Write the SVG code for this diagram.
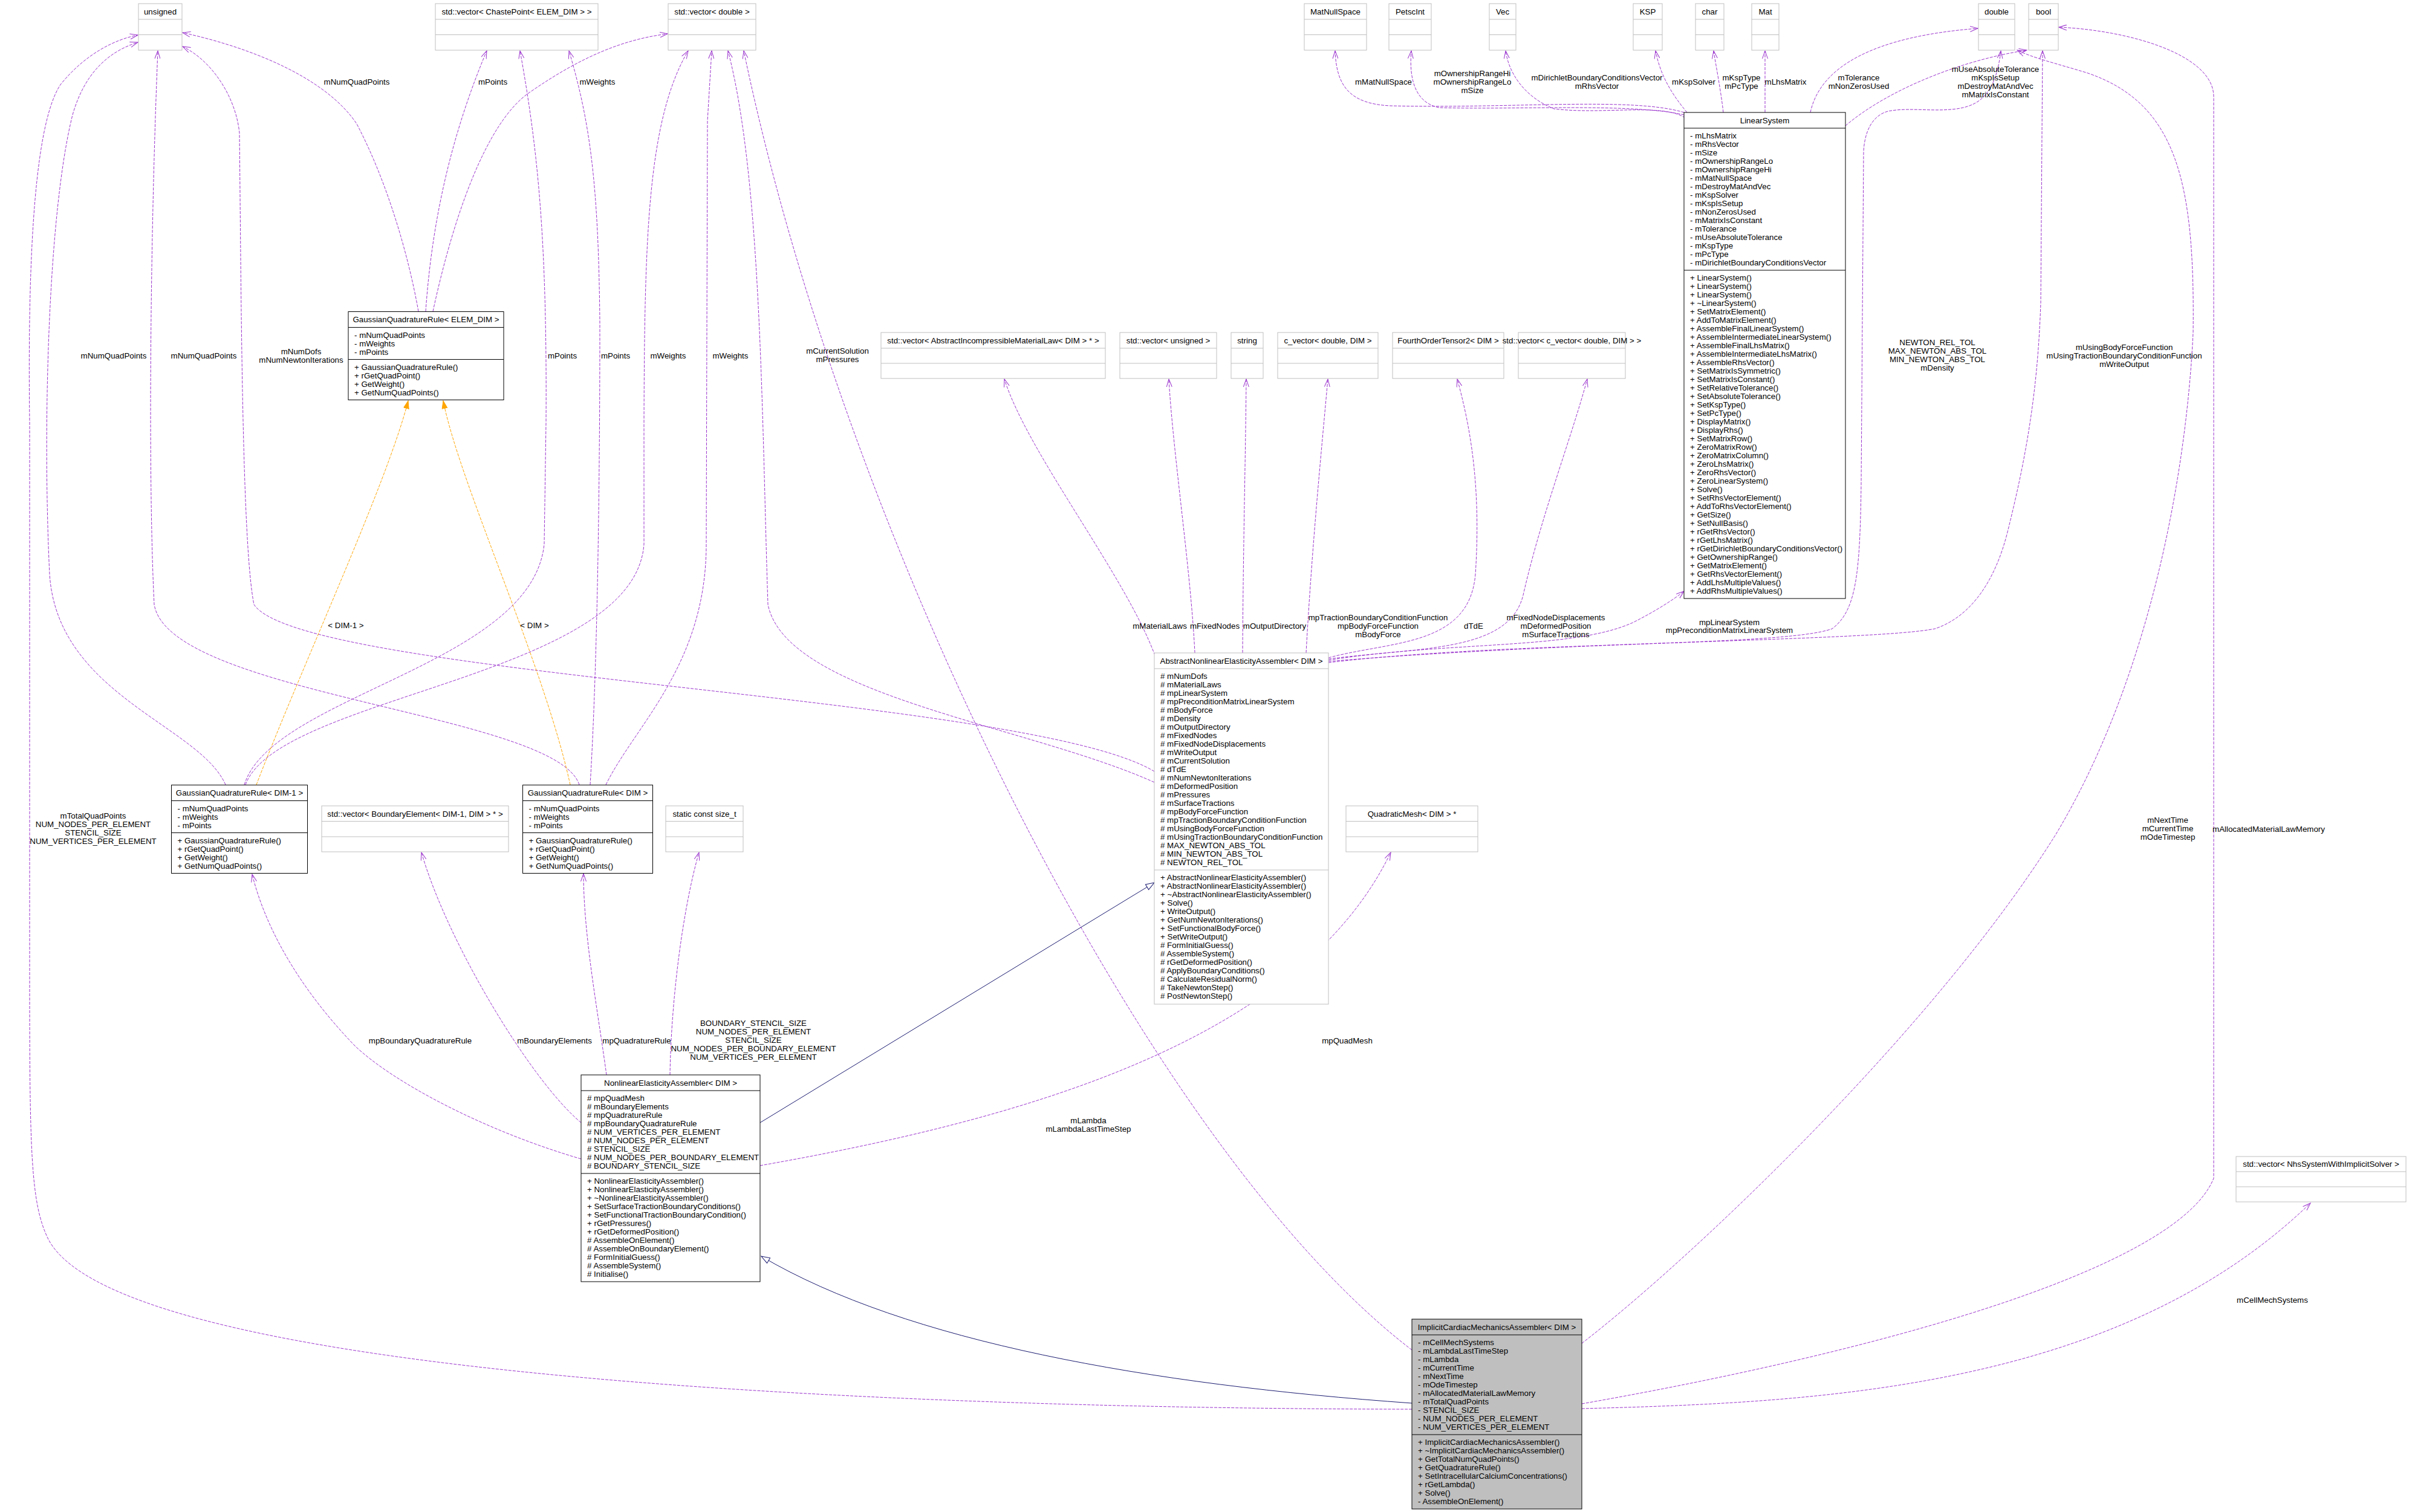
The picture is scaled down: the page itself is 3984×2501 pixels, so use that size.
<svg xmlns="http://www.w3.org/2000/svg" width="3984" height="2501" viewBox="0 0 3984 2501">
<style>
text{font-family:"Liberation Sans",Arial,sans-serif;font-size:13.33px;fill:#000}
.c{text-anchor:middle}
.bx{fill:#fff;stroke:#000;stroke-width:1}
.gx{fill:#fff;stroke:#bfbfbf;stroke-width:1}
.sx{fill:#bfbfbf;stroke:#000;stroke-width:1}
.lb{stroke:#000;stroke-width:1}
.lg{stroke:#bfbfbf;stroke-width:1}
.e{fill:none;stroke:#9a32cd;stroke-width:1;stroke-dasharray:5,2;marker-end:url(#ao)}
.o{fill:none;stroke:#ffa500;stroke-width:1;stroke-dasharray:5,2;marker-end:url(#af)}
.i{fill:none;stroke:#191970;stroke-width:1;marker-end:url(#ai)}
</style>
<defs>
<marker id="ao" markerUnits="userSpaceOnUse" markerWidth="14" markerHeight="10" viewBox="0 0 14 10" refX="13" refY="5" orient="auto"><path d="M0,0.5 L13,5 L0,9.5" fill="none" stroke="#9a32cd"/></marker>
<marker id="af" markerUnits="userSpaceOnUse" markerWidth="14" markerHeight="10" viewBox="0 0 14 10" refX="13" refY="5" orient="auto"><path d="M0,0.5 L13,5 L0,9.5 z" fill="#ffa500" stroke="#ffa500"/></marker>
<marker id="ai" markerUnits="userSpaceOnUse" markerWidth="16" markerHeight="12" viewBox="0 0 16 12" refX="15" refY="6" orient="auto"><path d="M1,1 L15,6 L1,11 z" fill="#fff" stroke="#191970"/></marker>
</defs>
<rect x="0" y="0" width="3984" height="2501" fill="#fff"/>

<g id="connectors">
<path class="e" d="M692,515 C675,420 640,300 590,205 C540,130 420,80 302,54"/>
<path class="e" d="M704,515 C712,400 735,250 805,84"/>
<path class="e" d="M716,515 C745,380 800,200 880,150 C960,95 1030,65 1104,56"/>
<path class="e" d="M373,1298 C330,1200 95,1150 82,950 C70,700 80,350 120,190 C140,120 180,85 228,70"/>
<path class="e" d="M958,1298 C920,1180 280,1150 255,1000 C245,800 248,400 261,84"/>
<path class="e" d="M1909,1276 C1700,1150 500,1120 420,1000 C400,900 399,500 396,220 C390,160 350,100 302,77"/>
<path class="e" d="M2335,2331 C1500,2330 200,2280 80,2050 C50,1990 49,1900 49,1600 L49,700 C45,400 60,200 100,140 C140,90 190,65 228,58"/>
<path class="e" d="M404,1298 C450,1150 880,1100 900,900 L903,700 C905,400 890,250 860,84"/>
<path class="e" d="M976,1298 C985,1150 992,900 992,536 C990,300 975,200 941,84"/>
<path class="e" d="M406,1298 C460,1150 1050,1120 1065,900 L1065,700 C1066,400 1070,200 1138,84"/>
<path class="e" d="M1002,1298 C1050,1200 1168,1100 1168,900 L1170,200 L1177,84"/>
<path class="e" d="M1909,1294 C1700,1200 1300,1150 1270,1000 C1260,700 1260,300 1204,84"/>
<path class="e" d="M2335,2233 C1900,1900 1400,900 1230,84"/>
<path class="o" d="M424,1298 C500,1100 640,800 675,663"/>
<path class="o" d="M943,1298 C900,1100 760,800 733,663"/>
<path class="e" d="M1910,1084 C1860,950 1700,750 1661,627"/>
<path class="e" d="M1976,1080 C1970,950 1940,750 1933,627"/>
<path class="e" d="M2055,1080 C2056,900 2060,750 2061,627"/>
<path class="e" d="M2160,1080 C2170,900 2185,750 2196,627"/>
<path class="e" d="M2197,1088 C2300,1060 2430,1070 2440,950 C2450,800 2430,700 2410,627"/>
<path class="e" d="M2197,1090 C2350,1070 2500,1080 2520,980 C2550,850 2600,720 2625,627"/>
<path class="e" d="M2197,1092 C2400,1060 2600,1075 2700,1030 C2740,1010 2770,990 2785,978"/>
<path class="e" d="M2197,1096 C2500,1060 2950,1070 3030,1040 C3070,1010 3076,950 3078,800 L3082,250 C3085,200 3110,185 3128,183 C3160,178 3200,185 3236,180 C3270,175 3300,160 3309,84"/>
<path class="e" d="M2197,1094 C2600,1060 3100,1060 3200,1040 C3260,1020 3300,960 3320,880 C3350,760 3370,650 3375,500 L3378,84"/>
<path class="e" d="M2785,186 C2700,160 2500,180 2300,175 C2230,172 2210,140 2208,84"/>
<path class="e" d="M2785,190 C2700,170 2500,182 2380,178 C2340,170 2330,130 2334,84"/>
<path class="e" d="M2787,195 C2750,170 2650,190 2570,180 C2520,160 2495,120 2490,84"/>
<path class="e" d="M2790,186 C2760,150 2745,120 2738,84"/>
<path class="e" d="M2850,186 C2846,150 2838,110 2834,84"/>
<path class="e" d="M2919,186 L2919,84"/>
<path class="e" d="M2994,186 C3010,110 3100,60 3271,47"/>
<path class="e" d="M3052,208 C3120,150 3240,100 3352,83"/>
<path class="e" d="M2616,2222 C2800,2080 3200,1700 3400,1380 C3550,1130 3615,800 3627,550 C3630,300 3600,170 3450,120 C3400,105 3360,95 3336,83"/>
<path class="e" d="M2616,2322 C3100,2237 3600,2100 3661,1949 L3661,160 C3661,90 3520,50 3405,45"/>
<path class="e" d="M2616,2330 C3000,2320 3500,2300 3821,1990"/>
<path class="e" d="M961,1917 C800,1870 650,1790 587,1730 C500,1640 440,1540 417,1446"/>
<path class="e" d="M961,1857 C880,1790 740,1560 697,1410"/>
<path class="e" d="M1003,1778 C990,1680 965,1550 965,1445"/>
<path class="e" d="M1108,1778 C1110,1650 1130,1500 1156,1410"/>
<path class="e" d="M1257,1928 C1700,1850 2150,1720 2300,1410"/>
<path class="i" d="M1257,1857 L1909,1460"/>
<path class="i" d="M2335,2321 C1900,2290 1500,2220 1259,2078"/>

<g class="c">
<text x="590" y="140">mNumQuadPoints</text>
<text x="815" y="140">mPoints</text>
<text x="988" y="140">mWeights</text>
<text x="188" y="593">mNumQuadPoints</text>
<text x="337" y="593">mNumQuadPoints</text>
<text x="498" y="586">mNumDofs</text><text x="498" y="600">mNumNewtonIterations</text>
<text x="930" y="593">mPoints</text>
<text x="1018" y="593">mPoints</text>
<text x="1105" y="593">mWeights</text>
<text x="1208" y="593">mWeights</text>
<text x="1385" y="585">mCurrentSolution</text><text x="1385" y="599">mPressures</text>
<text x="572" y="1039">&lt; DIM-1 &gt;</text>
<text x="884" y="1039">&lt; DIM &gt;</text>
<text x="1800" y="1858">mLambda</text><text x="1800" y="1872">mLambdaLastTimeStep</text>
<text x="154" y="1354">mTotalQuadPoints</text><text x="154" y="1368">NUM_NODES_PER_ELEMENT</text><text x="154" y="1382">STENCIL_SIZE</text><text x="154" y="1396">NUM_VERTICES_PER_ELEMENT</text>
<text x="1918" y="1040">mMaterialLaws</text>
<text x="2009" y="1040">mFixedNodes</text>
<text x="2108" y="1040">mOutputDirectory</text>
<text x="2279" y="1026">mpTractionBoundaryConditionFunction</text><text x="2279" y="1040">mpBodyForceFunction</text><text x="2279" y="1054">mBodyForce</text>
<text x="2437" y="1040">dTdE</text>
<text x="2573" y="1026">mFixedNodeDisplacements</text><text x="2573" y="1040">mDeformedPosition</text><text x="2573" y="1054">mSurfaceTractions</text>
<text x="2860" y="1034">mpLinearSystem</text><text x="2860" y="1047">mpPreconditionMatrixLinearSystem</text>
<text x="3204" y="571">NEWTON_REL_TOL</text><text x="3204" y="585">MAX_NEWTON_ABS_TOL</text><text x="3204" y="599">MIN_NEWTON_ABS_TOL</text><text x="3204" y="613">mDensity</text>
<text x="3513" y="579">mUsingBodyForceFunction</text><text x="3513" y="593">mUsingTractionBoundaryConditionFunction</text><text x="3513" y="607">mWriteOutput</text>
<text x="3585" y="1361">mNextTime</text><text x="3585" y="1375">mCurrentTime</text><text x="3585" y="1389">mOdeTimestep</text>
<text x="3752" y="1376">mAllocatedMaterialLawMemory</text>
<text x="3758" y="2155">mCellMechSystems</text>
<text x="2288" y="140">mMatNullSpace</text>
<text x="2435" y="126">mOwnershipRangeHi</text><text x="2435" y="140">mOwnershipRangeLo</text><text x="2435" y="154">mSize</text>
<text x="2641" y="133">mDirichletBoundaryConditionsVector</text><text x="2641" y="147">mRhsVector</text>
<text x="2801" y="140">mKspSolver</text>
<text x="2880" y="133">mKspType</text><text x="2880" y="147">mPcType</text>
<text x="2953" y="140">mLhsMatrix</text>
<text x="3074" y="133">mTolerance</text><text x="3074" y="147">mNonZerosUsed</text>
<text x="3300" y="119">mUseAbsoluteTolerance</text><text x="3300" y="133">mKspIsSetup</text><text x="3300" y="147">mDestroyMatAndVec</text><text x="3300" y="161">mMatrixIsConstant</text>
<text x="695" y="1726">mpBoundaryQuadratureRule</text>
<text x="917" y="1726">mBoundaryElements</text>
<text x="1053" y="1726">mpQuadratureRule</text>
<text x="1246" y="1697">BOUNDARY_STENCIL_SIZE</text><text x="1246" y="1711">NUM_NODES_PER_ELEMENT</text><text x="1246" y="1725">STENCIL_SIZE</text><text x="1246" y="1739">NUM_NODES_PER_BOUNDARY_ELEMENT</text><text x="1246" y="1753">NUM_VERTICES_PER_ELEMENT</text>
<text x="2228" y="1726">mpQuadMesh</text>
</g>
</g>

<g id="unsigned"><rect class="gx" x="229" y="6" width="72" height="77"/><line class="lg" x1="229" y1="32" x2="301" y2="32"/><line class="lg" x1="229" y1="57.5" x2="301" y2="57.5"/><text class="c" x="265" y="23.5">unsigned</text></g>
<g id="vecChastePoint"><rect class="gx" x="720" y="6" width="269" height="77"/><line class="lg" x1="720" y1="32" x2="989" y2="32"/><line class="lg" x1="720" y1="57.5" x2="989" y2="57.5"/><text class="c" x="854.5" y="23.5">std::vector&lt; ChastePoint&lt; ELEM_DIM &gt; &gt;</text></g>
<g id="vecDouble"><rect class="gx" x="1105" y="6" width="145" height="77"/><line class="lg" x1="1105" y1="32" x2="1250" y2="32"/><line class="lg" x1="1105" y1="57.5" x2="1250" y2="57.5"/><text class="c" x="1177.5" y="23.5">std::vector&lt; double &gt;</text></g>
<g id="MatNullSpace"><rect class="gx" x="2157" y="6" width="103" height="77"/><line class="lg" x1="2157" y1="32" x2="2260" y2="32"/><line class="lg" x1="2157" y1="57.5" x2="2260" y2="57.5"/><text class="c" x="2208.5" y="23.5">MatNullSpace</text></g>
<g id="PetscInt"><rect class="gx" x="2297" y="6" width="70" height="77"/><line class="lg" x1="2297" y1="32" x2="2367" y2="32"/><line class="lg" x1="2297" y1="57.5" x2="2367" y2="57.5"/><text class="c" x="2332" y="23.5">PetscInt</text></g>
<g id="Vec"><rect class="gx" x="2463" y="6" width="44" height="77"/><line class="lg" x1="2463" y1="32" x2="2507" y2="32"/><line class="lg" x1="2463" y1="57.5" x2="2507" y2="57.5"/><text class="c" x="2485" y="23.5">Vec</text></g>
<g id="KSP"><rect class="gx" x="2701" y="6" width="48" height="77"/><line class="lg" x1="2701" y1="32" x2="2749" y2="32"/><line class="lg" x1="2701" y1="57.5" x2="2749" y2="57.5"/><text class="c" x="2725" y="23.5">KSP</text></g>
<g id="char"><rect class="gx" x="2804" y="6" width="47" height="77"/><line class="lg" x1="2804" y1="32" x2="2851" y2="32"/><line class="lg" x1="2804" y1="57.5" x2="2851" y2="57.5"/><text class="c" x="2827.5" y="23.5">char</text></g>
<g id="Mat"><rect class="gx" x="2897" y="6" width="45" height="77"/><line class="lg" x1="2897" y1="32" x2="2942" y2="32"/><line class="lg" x1="2897" y1="57.5" x2="2942" y2="57.5"/><text class="c" x="2919.5" y="23.5">Mat</text></g>
<g id="double"><rect class="gx" x="3272" y="6" width="60" height="77"/><line class="lg" x1="3272" y1="32" x2="3332" y2="32"/><line class="lg" x1="3272" y1="57.5" x2="3332" y2="57.5"/><text class="c" x="3302" y="23.5">double</text></g>
<g id="bool"><rect class="gx" x="3355" y="6" width="49" height="77"/><line class="lg" x1="3355" y1="32" x2="3404" y2="32"/><line class="lg" x1="3355" y1="57.5" x2="3404" y2="57.5"/><text class="c" x="3379.5" y="23.5">bool</text></g>

<g id="vecMatLaw"><rect class="gx" x="1457" y="550" width="371" height="76"/><line class="lg" x1="1457" y1="576" x2="1828" y2="576"/><line class="lg" x1="1457" y1="601" x2="1828" y2="601"/><text class="c" x="1642.5" y="567.5">std::vector&lt; AbstractIncompressibleMaterialLaw&lt; DIM &gt; * &gt;</text></g>
<g id="vecUnsigned"><rect class="gx" x="1852" y="550" width="160" height="76"/><line class="lg" x1="1852" y1="576" x2="2012" y2="576"/><line class="lg" x1="1852" y1="601" x2="2012" y2="601"/><text class="c" x="1932" y="567.5">std::vector&lt; unsigned &gt;</text></g>
<g id="string"><rect class="gx" x="2036" y="550" width="53" height="76"/><line class="lg" x1="2036" y1="576" x2="2089" y2="576"/><line class="lg" x1="2036" y1="601" x2="2089" y2="601"/><text class="c" x="2062.5" y="567.5">string</text></g>
<g id="cvector"><rect class="gx" x="2113" y="550" width="166" height="76"/><line class="lg" x1="2113" y1="576" x2="2279" y2="576"/><line class="lg" x1="2113" y1="601" x2="2279" y2="601"/><text class="c" x="2196" y="567.5">c_vector&lt; double, DIM &gt;</text></g>
<g id="FourthOrderTensor2"><rect class="gx" x="2303" y="550" width="184" height="76"/><line class="lg" x1="2303" y1="576" x2="2487" y2="576"/><line class="lg" x1="2303" y1="601" x2="2487" y2="601"/><text class="c" x="2395" y="567.5">FourthOrderTensor2&lt; DIM &gt;</text></g>
<g id="vecCvector"><rect class="gx" x="2511" y="550" width="177" height="76"/><line class="lg" x1="2511" y1="576" x2="2688" y2="576"/><line class="lg" x1="2511" y1="601" x2="2688" y2="601"/><text class="c" x="2599.5" y="567.5">std::vector&lt; c_vector&lt; double, DIM &gt; &gt;</text></g>

<g id="vecBoundaryElement"><rect class="gx" x="532" y="1333" width="309" height="76"/><line class="lg" x1="532" y1="1358.5" x2="841" y2="1358.5"/><line class="lg" x1="532" y1="1384" x2="841" y2="1384"/><text class="c" x="686.5" y="1350.5">std::vector&lt; BoundaryElement&lt; DIM-1, DIM &gt; * &gt;</text></g>
<g id="staticConstSizeT"><rect class="gx" x="1101" y="1333" width="128" height="76"/><line class="lg" x1="1101" y1="1358.5" x2="1229" y2="1358.5"/><line class="lg" x1="1101" y1="1384" x2="1229" y2="1384"/><text class="c" x="1165" y="1350.5">static const size_t</text></g>
<g id="QuadraticMesh"><rect class="gx" x="2226" y="1333" width="218" height="76"/><line class="lg" x1="2226" y1="1358.5" x2="2444" y2="1358.5"/><line class="lg" x1="2226" y1="1384" x2="2444" y2="1384"/><text class="c" x="2335" y="1350.5">QuadraticMesh&lt; DIM &gt; *</text></g>
<g id="vecNhs"><rect class="gx" x="3698" y="1913" width="281" height="75"/><line class="lg" x1="3698" y1="1938" x2="3979" y2="1938"/><line class="lg" x1="3698" y1="1963" x2="3979" y2="1963"/><text class="c" x="3838.5" y="1930">std::vector&lt; NhsSystemWithImplicitSolver &gt;</text></g>

<g id="GQR_ELEM_DIM"><rect class="bx" x="576" y="515.5" width="257" height="146"/><line class="lb" x1="576" y1="541.5" x2="833" y2="541.5"/><line class="lb" x1="576" y1="594.5" x2="833" y2="594.5"/>
<text class="c" x="704.5" y="533">GaussianQuadratureRule&lt; ELEM_DIM &gt;</text>
<text x="586" y="558.5">- mNumQuadPoints</text><text x="586" y="572.5">- mWeights</text><text x="586" y="586.5">- mPoints</text>
<text x="586" y="611.5">+ GaussianQuadratureRule()</text><text x="586" y="625.5">+ rGetQuadPoint()</text><text x="586" y="639.5">+ GetWeight()</text><text x="586" y="653.5">+ GetNumQuadPoints()</text></g>

<g id="GQR_DIM_1"><rect class="bx" x="283.5" y="1298.5" width="225" height="146"/><line class="lb" x1="283.5" y1="1324.5" x2="508.5" y2="1324.5"/><line class="lb" x1="283.5" y1="1377.5" x2="508.5" y2="1377.5"/>
<text class="c" x="396" y="1316">GaussianQuadratureRule&lt; DIM-1 &gt;</text>
<text x="293.5" y="1341.5">- mNumQuadPoints</text><text x="293.5" y="1355.5">- mWeights</text><text x="293.5" y="1369.5">- mPoints</text>
<text x="293.5" y="1394.5">+ GaussianQuadratureRule()</text><text x="293.5" y="1408.5">+ rGetQuadPoint()</text><text x="293.5" y="1422.5">+ GetWeight()</text><text x="293.5" y="1436.5">+ GetNumQuadPoints()</text></g>

<g id="GQR_DIM"><rect class="bx" x="864.5" y="1298.5" width="215" height="146"/><line class="lb" x1="864.5" y1="1324.5" x2="1079.5" y2="1324.5"/><line class="lb" x1="864.5" y1="1377.5" x2="1079.5" y2="1377.5"/>
<text class="c" x="972" y="1316">GaussianQuadratureRule&lt; DIM &gt;</text>
<text x="874.5" y="1341.5">- mNumQuadPoints</text><text x="874.5" y="1355.5">- mWeights</text><text x="874.5" y="1369.5">- mPoints</text>
<text x="874.5" y="1394.5">+ GaussianQuadratureRule()</text><text x="874.5" y="1408.5">+ rGetQuadPoint()</text><text x="874.5" y="1422.5">+ GetWeight()</text><text x="874.5" y="1436.5">+ GetNumQuadPoints()</text></g>

<g id="LinearSystem"><rect class="bx" x="2785" y="186" width="267" height="804"/><line class="lb" x1="2785" y1="212" x2="3052" y2="212"/><line class="lb" x1="2785" y1="447" x2="3052" y2="447"/>
<text class="c" x="2918.5" y="204">LinearSystem</text>
<text x="2795" y="229">- mLhsMatrix</text><text x="2795" y="243">- mRhsVector</text><text x="2795" y="257">- mSize</text><text x="2795" y="271">- mOwnershipRangeLo</text><text x="2795" y="285">- mOwnershipRangeHi</text><text x="2795" y="299">- mMatNullSpace</text><text x="2795" y="313">- mDestroyMatAndVec</text><text x="2795" y="327">- mKspSolver</text><text x="2795" y="341">- mKspIsSetup</text><text x="2795" y="355">- mNonZerosUsed</text><text x="2795" y="369">- mMatrixIsConstant</text><text x="2795" y="383">- mTolerance</text><text x="2795" y="397">- mUseAbsoluteTolerance</text><text x="2795" y="411">- mKspType</text><text x="2795" y="425">- mPcType</text><text x="2795" y="439">- mDirichletBoundaryConditionsVector</text>
<text x="2795" y="464">+ LinearSystem()</text><text x="2795" y="478">+ LinearSystem()</text><text x="2795" y="492">+ LinearSystem()</text><text x="2795" y="506">+ ~LinearSystem()</text><text x="2795" y="520">+ SetMatrixElement()</text><text x="2795" y="534">+ AddToMatrixElement()</text><text x="2795" y="548">+ AssembleFinalLinearSystem()</text><text x="2795" y="562">+ AssembleIntermediateLinearSystem()</text><text x="2795" y="576">+ AssembleFinalLhsMatrix()</text><text x="2795" y="590">+ AssembleIntermediateLhsMatrix()</text><text x="2795" y="604">+ AssembleRhsVector()</text><text x="2795" y="618">+ SetMatrixIsSymmetric()</text><text x="2795" y="632">+ SetMatrixIsConstant()</text><text x="2795" y="646">+ SetRelativeTolerance()</text><text x="2795" y="660">+ SetAbsoluteTolerance()</text><text x="2795" y="674">+ SetKspType()</text><text x="2795" y="688">+ SetPcType()</text><text x="2795" y="702">+ DisplayMatrix()</text><text x="2795" y="716">+ DisplayRhs()</text><text x="2795" y="730">+ SetMatrixRow()</text><text x="2795" y="744">+ ZeroMatrixRow()</text><text x="2795" y="758">+ ZeroMatrixColumn()</text><text x="2795" y="772">+ ZeroLhsMatrix()</text><text x="2795" y="786">+ ZeroRhsVector()</text><text x="2795" y="800">+ ZeroLinearSystem()</text><text x="2795" y="814">+ Solve()</text><text x="2795" y="828">+ SetRhsVectorElement()</text><text x="2795" y="842">+ AddToRhsVectorElement()</text><text x="2795" y="856">+ GetSize()</text><text x="2795" y="870">+ SetNullBasis()</text><text x="2795" y="884">+ rGetRhsVector()</text><text x="2795" y="898">+ rGetLhsMatrix()</text><text x="2795" y="912">+ rGetDirichletBoundaryConditionsVector()</text><text x="2795" y="926">+ GetOwnershipRange()</text><text x="2795" y="940">+ GetMatrixElement()</text><text x="2795" y="954">+ GetRhsVectorElement()</text><text x="2795" y="968">+ AddLhsMultipleValues()</text><text x="2795" y="982">+ AddRhsMultipleValues()</text></g>

<g id="AbstractNonlinearElasticityAssembler"><rect class="gx" x="1909" y="1080" width="288" height="581"/><line class="lg" x1="1909" y1="1106" x2="2197" y2="1106"/><line class="lg" x1="1909" y1="1439" x2="2197" y2="1439"/>
<text class="c" x="2053" y="1098">AbstractNonlinearElasticityAssembler&lt; DIM &gt;</text>
<text x="1919" y="1123"># mNumDofs</text><text x="1919" y="1137"># mMaterialLaws</text><text x="1919" y="1151"># mpLinearSystem</text><text x="1919" y="1165"># mpPreconditionMatrixLinearSystem</text><text x="1919" y="1179"># mBodyForce</text><text x="1919" y="1193"># mDensity</text><text x="1919" y="1207"># mOutputDirectory</text><text x="1919" y="1221"># mFixedNodes</text><text x="1919" y="1235"># mFixedNodeDisplacements</text><text x="1919" y="1249"># mWriteOutput</text><text x="1919" y="1263"># mCurrentSolution</text><text x="1919" y="1277"># dTdE</text><text x="1919" y="1291"># mNumNewtonIterations</text><text x="1919" y="1305"># mDeformedPosition</text><text x="1919" y="1319"># mPressures</text><text x="1919" y="1333"># mSurfaceTractions</text><text x="1919" y="1347"># mpBodyForceFunction</text><text x="1919" y="1361"># mpTractionBoundaryConditionFunction</text><text x="1919" y="1375"># mUsingBodyForceFunction</text><text x="1919" y="1389"># mUsingTractionBoundaryConditionFunction</text><text x="1919" y="1403"># MAX_NEWTON_ABS_TOL</text><text x="1919" y="1417"># MIN_NEWTON_ABS_TOL</text><text x="1919" y="1431"># NEWTON_REL_TOL</text>
<text x="1919" y="1456">+ AbstractNonlinearElasticityAssembler()</text><text x="1919" y="1470">+ AbstractNonlinearElasticityAssembler()</text><text x="1919" y="1484">+ ~AbstractNonlinearElasticityAssembler()</text><text x="1919" y="1498">+ Solve()</text><text x="1919" y="1512">+ WriteOutput()</text><text x="1919" y="1526">+ GetNumNewtonIterations()</text><text x="1919" y="1540">+ SetFunctionalBodyForce()</text><text x="1919" y="1554">+ SetWriteOutput()</text><text x="1919" y="1568"># FormInitialGuess()</text><text x="1919" y="1582"># AssembleSystem()</text><text x="1919" y="1596"># rGetDeformedPosition()</text><text x="1919" y="1610"># ApplyBoundaryConditions()</text><text x="1919" y="1624"># CalculateResidualNorm()</text><text x="1919" y="1638"># TakeNewtonStep()</text><text x="1919" y="1652"># PostNewtonStep()</text></g>

<g id="NonlinearElasticityAssembler"><rect class="bx" x="961" y="1778" width="296" height="342"/><line class="lb" x1="961" y1="1804" x2="1257" y2="1804"/><line class="lb" x1="961" y1="1941" x2="1257" y2="1941"/>
<text class="c" x="1109" y="1796">NonlinearElasticityAssembler&lt; DIM &gt;</text>
<text x="971" y="1821"># mpQuadMesh</text><text x="971" y="1835"># mBoundaryElements</text><text x="971" y="1849"># mpQuadratureRule</text><text x="971" y="1863"># mpBoundaryQuadratureRule</text><text x="971" y="1877"># NUM_VERTICES_PER_ELEMENT</text><text x="971" y="1891"># NUM_NODES_PER_ELEMENT</text><text x="971" y="1905"># STENCIL_SIZE</text><text x="971" y="1919"># NUM_NODES_PER_BOUNDARY_ELEMENT</text><text x="971" y="1933"># BOUNDARY_STENCIL_SIZE</text>
<text x="971" y="1958">+ NonlinearElasticityAssembler()</text><text x="971" y="1972">+ NonlinearElasticityAssembler()</text><text x="971" y="1986">+ ~NonlinearElasticityAssembler()</text><text x="971" y="2000">+ SetSurfaceTractionBoundaryConditions()</text><text x="971" y="2014">+ SetFunctionalTractionBoundaryCondition()</text><text x="971" y="2028">+ rGetPressures()</text><text x="971" y="2042">+ rGetDeformedPosition()</text><text x="971" y="2056"># AssembleOnElement()</text><text x="971" y="2070"># AssembleOnBoundaryElement()</text><text x="971" y="2084"># FormInitialGuess()</text><text x="971" y="2098"># AssembleSystem()</text><text x="971" y="2112"># Initialise()</text></g>

<g id="ImplicitCardiacMechanicsAssembler"><rect class="sx" x="2335" y="2182" width="281" height="314"/><line class="lb" x1="2335" y1="2208" x2="2616" y2="2208"/><line class="lb" x1="2335" y1="2373" x2="2616" y2="2373"/>
<text class="c" x="2475.5" y="2200">ImplicitCardiacMechanicsAssembler&lt; DIM &gt;</text>
<text x="2345" y="2225">- mCellMechSystems</text><text x="2345" y="2239">- mLambdaLastTimeStep</text><text x="2345" y="2253">- mLambda</text><text x="2345" y="2267">- mCurrentTime</text><text x="2345" y="2281">- mNextTime</text><text x="2345" y="2295">- mOdeTimestep</text><text x="2345" y="2309">- mAllocatedMaterialLawMemory</text><text x="2345" y="2323">- mTotalQuadPoints</text><text x="2345" y="2337">- STENCIL_SIZE</text><text x="2345" y="2351">- NUM_NODES_PER_ELEMENT</text><text x="2345" y="2365">- NUM_VERTICES_PER_ELEMENT</text>
<text x="2345" y="2390">+ ImplicitCardiacMechanicsAssembler()</text><text x="2345" y="2404">+ ~ImplicitCardiacMechanicsAssembler()</text><text x="2345" y="2418">+ GetTotalNumQuadPoints()</text><text x="2345" y="2432">+ GetQuadratureRule()</text><text x="2345" y="2446">+ SetIntracellularCalciumConcentrations()</text><text x="2345" y="2460">+ rGetLambda()</text><text x="2345" y="2474">+ Solve()</text><text x="2345" y="2488">- AssembleOnElement()</text></g>
</svg>
